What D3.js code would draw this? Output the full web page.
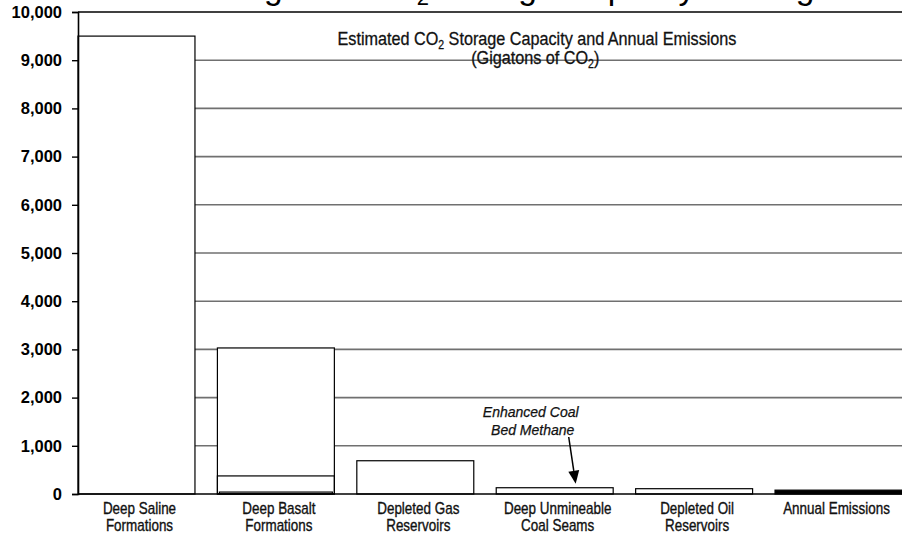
<!DOCTYPE html>
<html>
<head>
<meta charset="utf-8">
<script src="https://cdn.jsdelivr.net/npm/d3@7"></script>
<style>
  html, body { margin: 0; padding: 0; background: #fff; }
  svg { display: block; }
</style>
</head>
<body>
<svg id="chart" width="902" height="536"></svg>
<script>
// ---- data ----
const categories = ["Deep Saline Formations", "Deep Basalt Formations", "Depleted Gas Reservoirs",
                    "Deep Unmineable Coal Seams", "Depleted Oil Reservoirs", "Annual Emissions"];
const categoryLines = [["Deep Saline", "Formations"], ["Deep Basalt", "Formations"], ["Depleted Gas", "Reservoirs"],
                       ["Deep Unmineable", "Coal Seams"], ["Depleted Oil", "Reservoirs"], ["Annual Emissions"]];
const capacity = [9500, 3030, 690, 130, 110, 80];          // Gigatons of CO2
const basaltInner = [375, 40];                              // inner outlines within basalt bar
const yTickValues = [0, 1000, 2000, 3000, 4000, 5000, 6000, 7000, 8000, 9000, 10000];

// ---- layout ----
const svg = d3.select("#chart");
const plotL = 78, plotR = 902, plotT = 12, plotB = 494;
const FONT = "'Liberation Sans', Arial, sans-serif";

const x = d3.scaleBand().domain(categories).range([plotL, 892]).paddingInner(0.161).paddingOuter(0);
const y = d3.scaleLinear().domain([0, 10000]).range([plotB, plotT]);

// clipped main title (only descenders visible)
const title = svg.append("text")
  .attr("x", 501).attr("y", -1.5)
  .attr("text-anchor", "middle")
  .style("font-family", FONT)
  .style("font-size", "33.5px").attr("fill", "#000");
title.append("tspan").text("Estimating U.S. CO");
title.append("tspan").attr("dy", 6.5).style("font-size", "22px").text("2");
title.append("tspan").attr("dy", -6.5).text(" Storage Capacity for Regions");

// gridlines
svg.append("g").selectAll("line").data(yTickValues.filter(d => d > 0 && d < 10000)).join("line")
  .attr("x1", plotL).attr("x2", plotR)
  .attr("y1", d => y(d)).attr("y2", d => y(d))
  .attr("stroke", "#707070").attr("stroke-width", 1.6);

// bars
svg.append("g").selectAll("rect").data(categories).join("rect")
  .attr("x", d => x(d))
  .attr("y", (d, i) => y(capacity[i]))
  .attr("width", (d, i) => i === categories.length - 1 ? plotR + 2 - x(d) : x.bandwidth())
  .attr("height", (d, i) => y(0) - y(capacity[i]))
  .attr("fill", (d, i) => i === 5 ? "#000" : "#fff")
  .attr("stroke", "#000").attr("stroke-width", 1.2);

// basalt inner outlines
const bx = x(categories[1]);
svg.append("g").selectAll("rect").data(basaltInner).join("rect")
  .attr("x", (d, i) => bx + i * 2)
  .attr("y", d => y(d))
  .attr("width", (d, i) => x.bandwidth() - i * 4)
  .attr("height", d => y(0) - y(d))
  .attr("fill", "none")
  .attr("stroke", "#000").attr("stroke-width", 1.2);

// top border
svg.append("line").attr("x1", plotL).attr("x2", plotR).attr("y1", y(10000)).attr("y2", y(10000))
  .attr("stroke", "#000").attr("stroke-width", 1.6);

// y axis
const yAxis = d3.axisLeft(y).tickValues(yTickValues).tickSize(6).tickPadding(10)
  .tickFormat(d3.format(","));
const gy = svg.append("g").attr("transform", `translate(${plotL},0)`).call(yAxis);
gy.select(".domain").attr("stroke", "#000").attr("stroke-width", 1.6);
gy.selectAll(".tick line").attr("stroke", "#000").attr("stroke-width", 1.4);
gy.selectAll(".tick text")
  .style("font-family", FONT)
  .style("font-size", "16.5px").style("font-weight", "bold").attr("fill", "#000");

// x baseline
svg.append("line").attr("x1", plotL).attr("x2", plotR).attr("y1", y(0)).attr("y2", y(0))
  .attr("stroke", "#000").attr("stroke-width", 1.6);

// category labels (condensed look)
const labG = svg.append("g").selectAll("g").data(categories).join("g")
  .attr("transform", d => `translate(${x(d) + x.bandwidth() / 2 + 3},514) scale(0.84,1)`);
labG.each(function(d, i) {
  const t = d3.select(this).append("text")
    .attr("text-anchor", "middle")
    .style("font-family", FONT).style("font-size", "16px")
    .attr("fill", "#111").attr("stroke", "#111").attr("stroke-width", 0.35);
  categoryLines[i].forEach((line, j) => {
    t.append("tspan").attr("x", 0).attr("dy", j === 0 ? 0 : 17.5).text(line);
  });
});

// annotation heading (condensed look)
const ann = svg.append("g").attr("transform", "translate(537,0) scale(0.875,1)")
  .style("font-family", FONT).style("font-size", "18.5px")
  .attr("fill", "#111").attr("stroke", "#111").attr("stroke-width", 0.3);
const a1 = ann.append("text").attr("x", 0).attr("y", 45).attr("text-anchor", "middle");
a1.append("tspan").text("Estimated CO");
a1.append("tspan").attr("dy", 4).style("font-size", "12px").text("2");
a1.append("tspan").attr("dy", -4).text(" Storage Capacity and Annual Emissions");
const a2 = ann.append("text").attr("x", -2).attr("y", 64).attr("text-anchor", "middle");
a2.append("tspan").text("(Gigatons of CO");
a2.append("tspan").attr("dy", 4).style("font-size", "12px").text("2");
a2.append("tspan").attr("dy", -4).text(")");

// Enhanced Coal Bed Methane callout
const coalX = x(categories[3]) + x.bandwidth() / 2;
const cb = svg.append("text").attr("y", 417).attr("text-anchor", "middle")
  .style("font-family", FONT)
  .style("font-size", "14px").style("font-style", "italic")
  .attr("fill", "#111").attr("stroke", "#111").attr("stroke-width", 0.25);
cb.append("tspan").attr("x", coalX - 24).text("Enhanced Coal");
cb.append("tspan").attr("x", coalX - 22).attr("dy", 18).text("Bed Methane");

const ax1 = coalX + 14, ay1 = 437, ax2 = coalX + 21, ay2 = y(capacity[3]) - 4;
const ang = Math.atan2(ay2 - ay1, ax2 - ax1);
const hl = 13, hw = 5.5;
const bxp = ax2 - hl * Math.cos(ang), byp = ay2 - hl * Math.sin(ang);
svg.append("line")
  .attr("x1", ax1).attr("y1", ay1).attr("x2", bxp).attr("y2", byp)
  .attr("stroke", "#000").attr("stroke-width", 1.5);
svg.append("path")
  .attr("d", `M${ax2},${ay2} L${bxp - hw * Math.sin(ang)},${byp + hw * Math.cos(ang)} L${bxp + hw * Math.sin(ang)},${byp - hw * Math.cos(ang)} Z`)
  .attr("fill", "#000");
</script>
</body>
</html>
